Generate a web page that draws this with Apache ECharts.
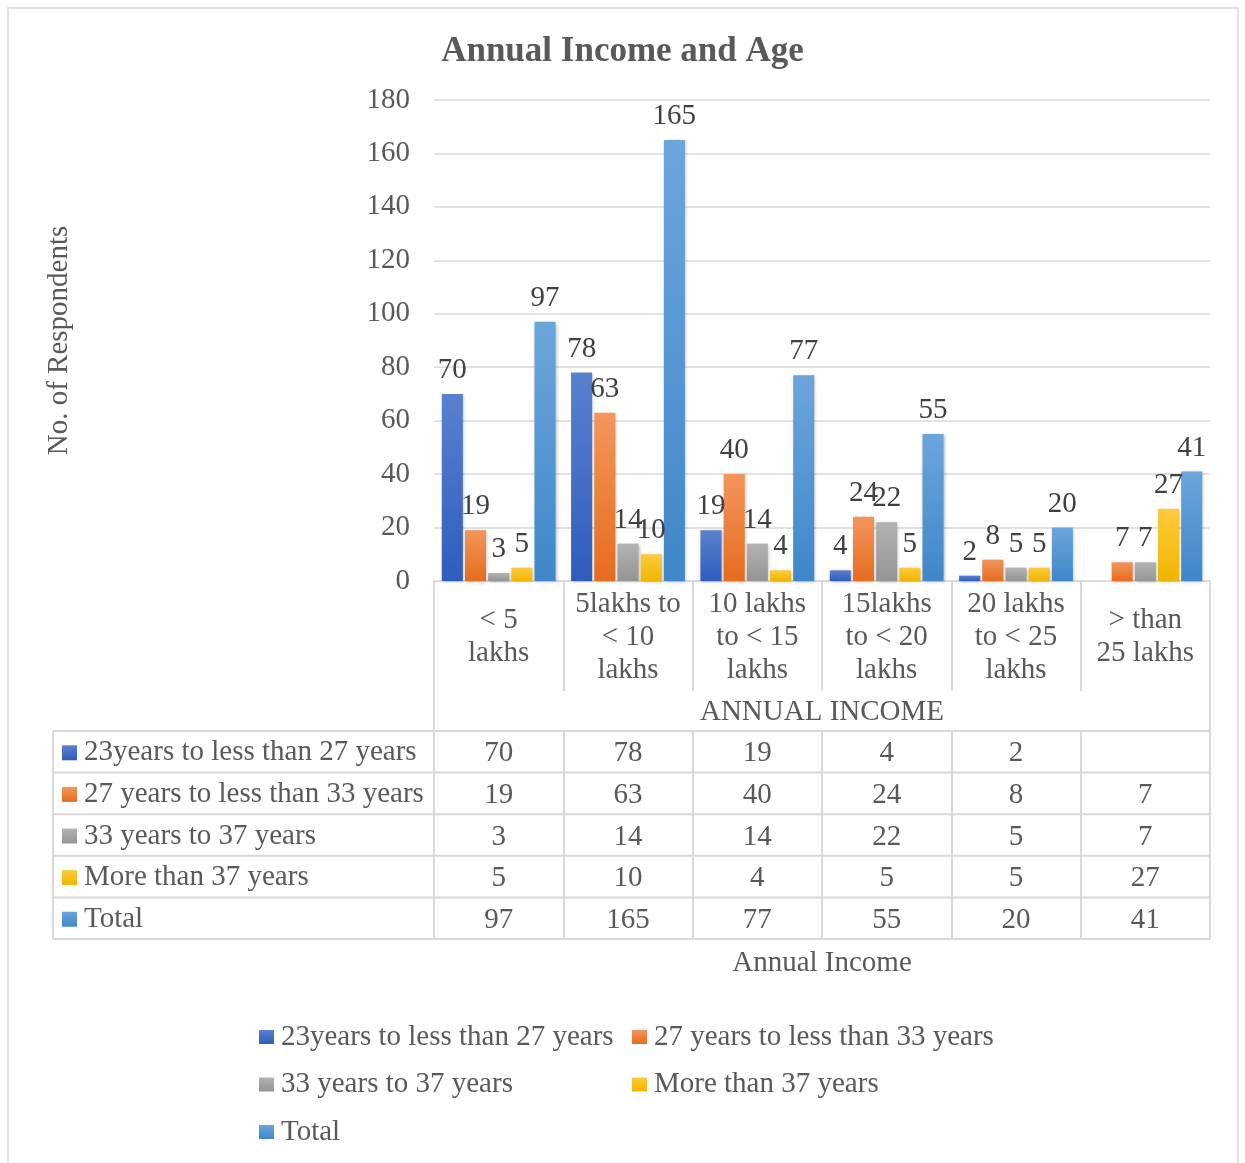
<!DOCTYPE html>
<html>
<head>
<meta charset="utf-8">
<title>Annual Income and Age</title>
<script src="https://cdn.jsdelivr.net/npm/echarts@6/dist/echarts.min.js"></script>
<style>
  html, body { margin: 0; padding: 0; background: #ffffff; }
  #chart { width: 1245px; height: 1163px; }
</style>
</head>
<body>
<div id="chart"></div>
<script>
// Income brackets (x-axis categories)
const categories = [
  '< 5\nlakhs',
  '5lakhs to\n< 10\nlakhs',
  '10 lakhs\nto < 15\nlakhs',
  '15lakhs\nto < 20\nlakhs',
  '20 lakhs\nto < 25\nlakhs',
  '> than\n25 lakhs'
];
const groupLabel = ['ANNUAL INCOME'];

// Age groups (series names)
const seriesNames = [
  '23years to less than 27 years',
  '27 years to less than 33 years',
  '33 years to 37 years',
  'More than 37 years',
  'Total'
];

// Respondent counts per income bracket
const age23to27 = [70, 78, 19, 4, 2, null];
const age27to33 = [19, 63, 40, 24, 8, 7];
const age33to37 = [3, 14, 14, 22, 5, 7];
const age37plus = [5, 10, 4, 5, 5, 27];
const totals    = [97, 165, 77, 55, 20, 41];

// Value axis ticks
const yMin = 0, yMax = 180, yStep = 20;

const seriesValues = [age23to27, age27to33, age33to37, age37plus, totals];

// Layout constants
const FONT = "'Liberation Serif', 'Times New Roman', serif";
const FS = 29;
const TEXT = '#595959';
const LINE = '#d9d9d9';
const GRID = { left: 434, right: 1210, top: 100, bottom: 581 };
const CAT_ROW_H = 110;     // category label row
const GROUP_ROW_H = 40;    // "ANNUAL INCOME" row
const ROW_H = 41.6;        // data table rows
const TABLE_LEFT = 53;
const NUDGE = 2;           // optical offset for vertically centred text

function grad(top, bottom) {
  return new echarts.graphic.LinearGradient(0, 0, 0, 1, [
    { offset: 0, color: top },
    { offset: 1, color: bottom }
  ]);
}
const colors = [
  grad('#5b80cf', '#2f5dbd'),
  grad('#f3955c', '#e66c1e'),
  grad('#b3b3b3', '#949494'),
  grad('#ffca3c', '#efb500'),
  grad('#6ca5dc', '#3f87c9')
];

const textStyle = { fontFamily: FONT, fontSize: FS, color: TEXT };

const xAxes = [
  {
    type: 'category',
    data: categories,
    position: 'bottom',
    axisLine: { show: true, lineStyle: { color: LINE, width: 1.5 } },
    axisTick: { show: true, interval: 0, length: CAT_ROW_H, lineStyle: { color: LINE, width: 2 } },
    axisLabel: Object.assign({ interval: 0, lineHeight: 33, verticalAlign: 'middle', margin: CAT_ROW_H / 2 + NUDGE - 1 }, textStyle),
    name: 'Annual Income',
    nameLocation: 'middle',
    nameGap: 368,
    nameTextStyle: textStyle
  },
  {
    type: 'category',
    data: groupLabel,
    position: 'bottom',
    offset: CAT_ROW_H,
    axisLine: { show: false },
    axisTick: { show: true, interval: 0, length: GROUP_ROW_H, lineStyle: { color: LINE, width: 2 } },
    axisLabel: Object.assign({ interval: 0, verticalAlign: 'middle', margin: GROUP_ROW_H / 2 + NUDGE - 1 }, textStyle)
  }
];
seriesValues.forEach(function (vals, i) {
  xAxes.push({
    type: 'category',
    data: vals.map(function (v) { return v == null ? '' : String(v); }),
    position: 'bottom',
    offset: CAT_ROW_H + GROUP_ROW_H + ROW_H * i,
    axisLine: { show: false },
    axisTick: i === 0
      ? { show: true, interval: 0, length: ROW_H * 5, lineStyle: { color: LINE, width: 2 } }
      : { show: false },
    axisLabel: Object.assign({ interval: 0, verticalAlign: 'middle', margin: ROW_H / 2 + NUDGE }, textStyle)
  });
});

const series = seriesValues.map(function (vals, i) {
  return {
    name: seriesNames[i],
    type: 'bar',
    xAxisIndex: 0,
    data: vals.map(function (v) { return v == null ? '-' : v; }),
    barGap: '10%',
    barCategoryGap: '12%',
    itemStyle: {
      color: colors[i],
      shadowColor: 'rgba(0,0,0,0.25)',
      shadowBlur: 3,
      shadowOffsetX: 1,
      shadowOffsetY: 1
    },
    label: {
      show: true,
      position: 'top',
      distance: 9,
      fontFamily: FONT,
      fontSize: FS,
      color: '#404040'
    },
    emphasis: { disabled: true }
  };
});

// Table frame: horizontal rules spanning the row-label column too
const tableTop = GRID.bottom + CAT_ROW_H + GROUP_ROW_H;
const frame = [];
for (let k = 0; k <= seriesValues.length; k++) {
  const y = tableTop + ROW_H * k;
  frame.push({
    type: 'line',
    shape: { x1: TABLE_LEFT, y1: y, x2: GRID.right, y2: y },
    style: { stroke: LINE, lineWidth: 2 },
    silent: true
  });
}
frame.push({
  type: 'line',
  shape: { x1: TABLE_LEFT, y1: tableTop, x2: TABLE_LEFT, y2: tableTop + ROW_H * seriesValues.length },
  style: { stroke: LINE, lineWidth: 2 },
  silent: true
});
frame.push({
  type: 'rect',
  shape: { x: 8, y: 8, width: 1230, height: 1170 },
  style: { fill: null, stroke: LINE, lineWidth: 1.5 },
  silent: true
});

const LEGEND_LH = 29;
const legendText = Object.assign({ lineHeight: LEGEND_LH, padding: [0, 0, 0, 2] }, textStyle);

const option = {
  backgroundColor: '#ffffff',
  animation: false,
  title: {
    text: 'Annual Income and Age',
    left: 'center',
    top: 29,
    textStyle: { fontFamily: FONT, fontSize: 35, fontWeight: 'bold', color: TEXT }
  },
  grid: {
    left: GRID.left,
    right: 1245 - GRID.right,
    top: GRID.top,
    bottom: 1163 - GRID.bottom,
    containLabel: false
  },
  legend: [
    {
      // row labels of the data table
      data: seriesNames,
      orient: 'vertical',
      left: 62,
      top: tableTop + ROW_H / 2 - LEGEND_LH / 2 + NUDGE - 1,
      padding: 0,
      itemGap: ROW_H - LEGEND_LH,
      itemWidth: 15,
      itemHeight: 15,
      icon: 'rect',
      selectedMode: false,
      textStyle: legendText
    },
    {
      data: [seriesNames[0], seriesNames[2], seriesNames[4]],
      orient: 'vertical',
      left: 259,
      top: 1022.5,
      padding: 0,
      itemGap: 47.5 - LEGEND_LH,
      itemWidth: 15,
      itemHeight: 14,
      icon: 'rect',
      selectedMode: false,
      textStyle: legendText
    },
    {
      data: [seriesNames[1], seriesNames[3]],
      orient: 'vertical',
      left: 632,
      top: 1022.5,
      padding: 0,
      itemGap: 47.5 - LEGEND_LH,
      itemWidth: 15,
      itemHeight: 14,
      icon: 'rect',
      selectedMode: false,
      textStyle: legendText
    }
  ],
  xAxis: xAxes,
  yAxis: {
    type: 'value',
    min: yMin,
    max: yMax,
    interval: yStep,
    axisLine: { show: false },
    axisTick: { show: false },
    splitLine: { lineStyle: { color: LINE, width: 1.5 } },
    axisLabel: Object.assign({ margin: 24, padding: [6, 0, 0, 0] }, textStyle),
    name: 'No. of Respondents',
    nameLocation: 'middle',
    nameGap: 360,
    nameRotate: 90,
    nameTextStyle: textStyle
  },
  series: series,
  graphic: frame
};

const chart = echarts.init(document.getElementById('chart'), null, { renderer: 'canvas' });
chart.setOption(option);
</script>
</body>
</html>
